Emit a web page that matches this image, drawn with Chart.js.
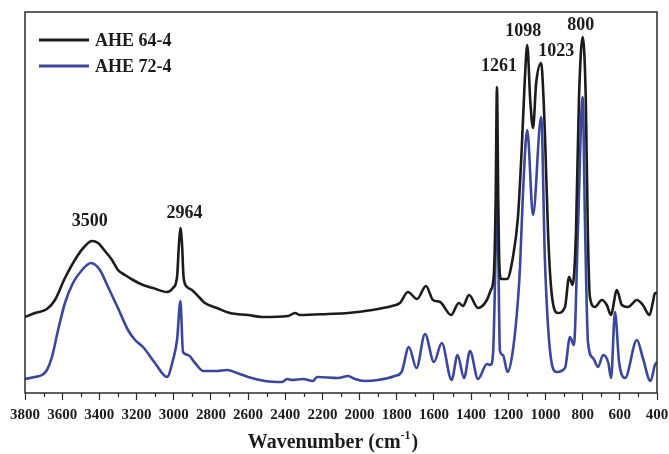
<!DOCTYPE html>
<html>
<head>
<meta charset="utf-8">
<script src="https://cdn.jsdelivr.net/npm/chart.js@4/dist/chart.umd.min.js"></script>
<style>
  html, body { margin: 0; padding: 0; background: #ffffff; }
  #wrap { width: 669px; height: 454px; }
</style>
</head>
<body>
<div id="wrap"><canvas id="ftir" width="669" height="454"></canvas></div>
<script>
// FTIR spectra of two AHE samples (intensity in arbitrary units, offset traces)
const seriesNames = ['AHE 64-4', 'AHE 72-4'];

const ahe64Wavenumber = [
  3800, 3746, 3682, 3639, 3585, 3515, 3477, 3440, 3407, 3370, 3332, 3300, 3262, 3219,
  3165, 3111, 3036, 3004, 2982, 2972, 2964, 2955, 2947, 2928, 2902, 2859, 2832, 2767,
  2697, 2600, 2525, 2385, 2347, 2321, 2170, 2062, 1933, 1826, 1783, 1740, 1691, 1643,
  1605, 1567, 1508, 1466, 1444, 1411, 1363, 1315, 1294, 1278, 1268, 1261, 1254, 1248,
  1239, 1207, 1175, 1148, 1128, 1112, 1098, 1082, 1067, 1050, 1023, 1010, 1003, 986,
  967, 933, 895, 873, 854, 836, 820, 800, 783, 772, 761, 734, 697, 670, 648, 616,
  589, 556, 508, 476, 440, 422, 411, 400
];
const ahe64Intensity = [
  76, 80, 84, 93, 115, 138, 147, 152, 150, 142, 133, 123, 118, 113,
  108, 105, 101, 105, 116, 148, 165, 148, 116, 106, 103, 95, 90, 85,
  80, 78, 76, 77, 80, 78, 79, 80, 83, 87, 90, 101, 94, 107,
  93, 91, 78, 90, 87, 98, 85, 93, 103, 118, 193, 306, 193, 128,
  114, 114, 136, 176, 243, 310, 348, 293, 265, 310, 330, 293, 260, 160,
  100, 80, 86, 116, 108, 160, 293, 356, 293, 160, 96, 86, 93, 88, 78, 103,
  88, 86, 93, 88, 78, 91, 100, 100
];

const ahe72Wavenumber = [
  3800, 3746, 3709, 3682, 3655, 3622, 3585, 3542, 3493, 3445, 3397, 3353, 3300, 3246,
  3208, 3165, 3101, 3036, 3004, 2982, 2964, 2950, 2923, 2885, 2842, 2767, 2713, 2659,
  2600, 2509, 2417, 2390, 2364, 2304, 2251, 2229, 2116, 2062, 2025, 1971, 1901, 1810,
  1774, 1735, 1694, 1648, 1600, 1558, 1505, 1473, 1438, 1406, 1363, 1315, 1295, 1282,
  1268, 1261, 1254, 1245, 1229, 1204, 1175, 1148, 1137, 1121, 1098, 1067, 1023, 1003,
  976, 940, 895, 868, 847, 825, 800, 787, 771, 744, 717, 690, 663, 647, 626, 604,
  572, 508, 476, 435, 411, 400
];
const ahe72Intensity = [
  14, 16, 18, 23, 36, 63, 90, 110, 123, 130, 123, 106, 85, 63,
  53, 46, 30, 16, 33, 53, 92, 41, 38, 30, 22, 22, 23, 20,
  16, 12, 11, 14, 13, 14, 12, 16, 15, 17, 14, 12, 13, 17,
  21, 46, 25, 59, 31, 50, 13, 38, 15, 42, 14, 29, 28, 40,
  143, 226, 143, 42, 38, 21, 43, 93, 126, 200, 263, 178, 276, 133,
  43, 21, 25, 56, 48, 166, 296, 166, 50, 35, 26, 38, 31, 15, 81, 31,
  15, 53, 35, 12, 28, 31
];

// Labelled band positions (cm-1)
const peakLabels = [3500, 2964, 1261, 1098, 1023, 800];

const xTickStep = 200;
const xMin = 400, xMax = 3800;

const toPoints = (xs, ys) => xs.map((x, i) => ({ x: x, y: ys[i] }));

const SERIF = '"Liberation Serif", "Times New Roman", serif';
const INK = '#1c1c1c';
const BLUE = '#3a479c';

// label placement relative to the band maximum of the upper trace (pixels)
const labelNudge = {
  3500: { dx: 9, dy: 20, win: 80 },
  2964: { dx: 4, dy: 15, win: 20 },
  1261: { dx: 2, dy: 21, win: 20 },
  1098: { dx: -4, dy: 14, win: 20 },
  1023: { dx: 15, dy: 12, win: 20 },
  800:  { dx: -2, dy: 12, win: 20 }
};

const framePlugin = {
  id: 'frame',
  afterDatasetsDraw(chart) {
    const { ctx, chartArea: a } = chart;
    ctx.save();
    ctx.strokeStyle = '#2b2b2b';
    ctx.lineWidth = 1.5;
    ctx.strokeRect(a.left, a.top, a.right - a.left, a.bottom - a.top);
    ctx.restore();
  }
};

const minorTicksPlugin = {
  id: 'minorTicks',
  afterDraw(chart) {
    const { ctx, chartArea: a } = chart;
    const sx = chart.scales.x;
    ctx.save();
    ctx.strokeStyle = '#2b2b2b';
    ctx.lineWidth = 1.2;
    for (let v = xMin + xTickStep / 2; v < xMax; v += xTickStep) {
      const px = Math.round(sx.getPixelForValue(v)) + 0.5;
      ctx.beginPath();
      ctx.moveTo(px, a.bottom);
      ctx.lineTo(px, a.bottom + 4);
      ctx.stroke();
    }
    ctx.restore();
  }
};

const peakLabelPlugin = {
  id: 'peakLabels',
  afterDatasetsDraw(chart) {
    const { ctx } = chart;
    const sx = chart.scales.x, sy = chart.scales.y;
    ctx.save();
    ctx.fillStyle = INK;
    ctx.font = 'bold 18px ' + SERIF;
    ctx.textAlign = 'center';
    ctx.textBaseline = 'middle';
    peakLabels.forEach(wn => {
      const n = labelNudge[wn] || { dx: 0, dy: 14, win: 20 };
      let best = -Infinity;
      ahe64Wavenumber.forEach((w, i) => {
        if (Math.abs(w - wn) <= n.win && ahe64Intensity[i] > best) best = ahe64Intensity[i];
      });
      const px = sx.getPixelForValue(wn) + n.dx;
      const py = sy.getPixelForValue(best) - n.dy;
      ctx.fillText(String(wn), px, py);
    });
    ctx.restore();
  }
};

const legendPlugin = {
  id: 'cornerLegend',
  afterDraw(chart) {
    const { ctx, chartArea: a } = chart;
    const colors = [INK, BLUE];
    ctx.save();
    ctx.font = 'bold 18px ' + SERIF;
    ctx.textBaseline = 'middle';
    ctx.textAlign = 'left';
    seriesNames.forEach((name, i) => {
      const y = a.top + 28 + i * 26;
      ctx.strokeStyle = colors[i];
      ctx.lineWidth = 3;
      ctx.beginPath();
      ctx.moveTo(a.left + 14, y);
      ctx.lineTo(a.left + 64, y);
      ctx.stroke();
      ctx.fillStyle = INK;
      ctx.fillText(name, a.left + 70, y + 1);
    });
    ctx.restore();
  }
};

const axisTitlePlugin = {
  id: 'axisTitle',
  afterDraw(chart) {
    const { ctx, chartArea: a } = chart;
    const main = 'Wavenumber (cm';
    const sup = '-1';
    const tail = ')';
    ctx.save();
    ctx.fillStyle = INK;
    ctx.textBaseline = 'alphabetic';
    ctx.textAlign = 'left';
    const fMain = 'bold 20px ' + SERIF;
    const fSup = 'bold 12px ' + SERIF;
    ctx.font = fMain;
    const wMain = ctx.measureText(main).width;
    const wTail = ctx.measureText(tail).width;
    ctx.font = fSup;
    const wSup = ctx.measureText(sup).width;
    const total = wMain + wSup + 1 + wTail;
    const cx = (a.left + a.right) / 2 - 8;
    let x = cx - total / 2;
    const base = a.bottom + 55;
    ctx.font = fMain;
    ctx.fillText(main, x, base);
    x += wMain;
    ctx.font = fSup;
    ctx.fillText(sup, x, base - 9);
    x += wSup + 1;
    ctx.font = fMain;
    ctx.fillText(tail, x, base);
    ctx.restore();
  }
};

new Chart(document.getElementById('ftir'), {
  type: 'line',
  data: {
    datasets: [
      {
        label: seriesNames[0],
        data: toPoints(ahe64Wavenumber, ahe64Intensity),
        borderColor: INK,
        borderWidth: 2.6,
        pointRadius: 0,
        cubicInterpolationMode: 'monotone',
        fill: false
      },
      {
        label: seriesNames[1],
        data: toPoints(ahe72Wavenumber, ahe72Intensity),
        borderColor: BLUE,
        borderWidth: 2.6,
        pointRadius: 0,
        cubicInterpolationMode: 'monotone',
        fill: false
      }
    ]
  },
  options: {
    responsive: false,
    animation: false,
    devicePixelRatio: 1,
    layout: { padding: { left: 25, right: 12, top: 12, bottom: 0 } },
    plugins: {
      legend: { display: false },
      tooltip: { enabled: false },
      title: { display: false }
    },
    scales: {
      x: {
        type: 'linear',
        reverse: true,
        min: xMin,
        max: xMax,
        position: 'bottom',
        afterFit(scale) {
          scale.height = 61;
          scale.paddingLeft = 0;
          scale.paddingRight = 0;
        },
        ticks: {
          stepSize: xTickStep,
          autoSkip: false,
          maxRotation: 0,
          minRotation: 0,
          padding: 6,
          color: INK,
          font: { family: SERIF, size: 15, weight: 'bold' },
          callback: (value) => String(value)
        },
        grid: {
          drawOnChartArea: false,
          drawTicks: true,
          tickLength: 7,
          tickColor: '#2b2b2b',
          tickWidth: 1.2
        },
        border: { display: false },
        title: { display: false }
      },
      y: {
        display: false,
        min: 0,
        max: 381
      }
    }
  },
  plugins: [framePlugin, minorTicksPlugin, peakLabelPlugin, legendPlugin, axisTitlePlugin]
});
</script>
</body>
</html>
